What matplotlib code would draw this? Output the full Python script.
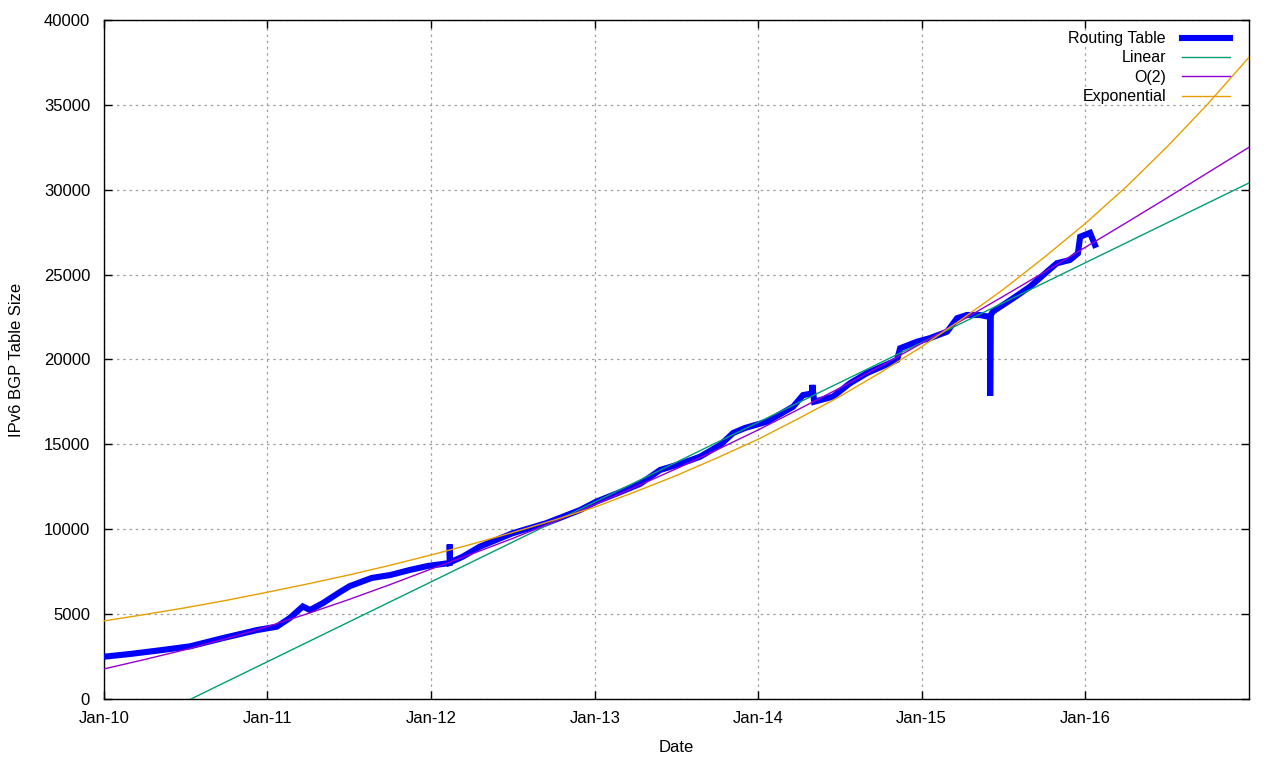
import pandas as pd
import matplotlib
matplotlib.use("Agg")
import matplotlib.pyplot as plt
import matplotlib.dates as mdates

# routing table size (dates repeated where the line jumps)
table_dates = [
    "2010-01-01", "2010-02-28", "2010-05-13", "2010-07-12", "2010-09-24",
    "2010-12-09", "2011-01-22", "2011-02-20", "2011-03-21", "2011-04-06",
    "2011-05-05", "2011-06-12", "2011-07-04", "2011-08-22", "2011-10-02",
    "2011-11-15", "2011-12-26", "2012-02-12", "2012-02-12", "2012-02-13",
    "2012-03-12", "2012-04-19", "2012-07-01", "2012-09-15", "2012-11-29",
    "2013-01-04", "2013-02-27", "2013-04-12", "2013-05-27", "2013-07-10",
    "2013-08-24", "2013-10-08", "2013-11-06", "2013-12-02", "2014-01-21",
    "2014-03-20", "2014-04-11", "2014-05-01", "2014-05-02", "2014-05-06",
    "2014-06-17", "2014-07-25", "2014-09-01", "2014-11-07", "2014-11-14",
    "2014-12-22", "2015-01-20", "2015-02-27", "2015-03-21", "2015-04-12",
    "2015-05-11", "2015-06-03", "2015-06-03", "2015-06-04", "2015-06-09",
    "2015-07-24", "2015-08-31", "2015-10-08", "2015-10-30", "2015-11-28",
    "2015-12-16", "2015-12-21", "2016-01-12", "2016-01-23",
]
table_size = [
    2490, 2650, 2890, 3100, 3590,
    4060, 4260, 4770, 5450, 5240,
    5650, 6300, 6650, 7130, 7300,
    7600, 7840, 8010, 9100, 8050,
    8380, 8970, 9760, 10360, 11130,
    11620, 12190, 12670, 13490, 13840,
    14270, 14960, 15670, 15960, 16340,
    17220, 17900, 18000, 18500, 17510,
    17810, 18600, 19200, 19970, 20660,
    21050, 21260, 21640, 22430, 22620,
    22620, 22500, 17850, 22600, 22820,
    23600, 24290, 25170, 25670, 25860,
    26250, 27230, 27460, 26750,
]

# fitted curves, read at each quarter
fit_dates = [
    "2010-01-01", "2010-04-01", "2010-07-01", "2010-10-01",
    "2011-01-01", "2011-04-01", "2011-07-01", "2011-10-01",
    "2012-01-01", "2012-04-01", "2012-07-01", "2012-10-01",
    "2013-01-01", "2013-04-01", "2013-07-01", "2013-10-01",
    "2014-01-01", "2014-04-01", "2014-07-01", "2014-10-01",
    "2015-01-01", "2015-04-01", "2015-07-01", "2015-10-01",
    "2016-01-01", "2016-04-01", "2016-07-01", "2016-10-01",
    "2017-01-01",
]
quad_fit = [1770, 2320, 2900, 3560, 4260, 5030, 5850, 6730, 7650,
            8540, 9450, 10430, 11450, 12480, 13550, 14680, 15850,
            17060, 18300, 19600, 20950, 22310, 23700, 25130, 26600,
            28040, 29500, 31000, 32500]
exp_fit = [4600, 4970, 5370, 5810, 6290, 6780, 7300, 7870, 8480,
           9120, 9800, 10530, 11300, 12200, 13150, 14200, 15300,
           16520, 17800, 19230, 20750, 22380, 24100, 26000, 28000,
           30150, 32500, 35050, 37800]
lin_dates = ["2010-01-01", "2017-01-01"]
lin_fit = [-2500, 30400]

plt.rcParams['font.family'] = ['Liberation Sans', 'DejaVu Sans']

fig = plt.figure(figsize=(12.8, 7.6), dpi=100)
ax = fig.add_axes([0.08125, 0.0803, 0.8945, 0.8934])

ax.plot(pd.to_datetime(table_dates), table_size, color='#0000ff', lw=4.4,
        label='Routing Table', solid_joinstyle='miter', zorder=3)
ax.plot(pd.to_datetime(lin_dates), lin_fit, color='#009e73', lw=1,
        label='Linear', zorder=4)
ax.plot(pd.to_datetime(fit_dates), quad_fit, color='#9400d3', lw=1,
        label='O(2)', zorder=4)
ax.plot(pd.to_datetime(fit_dates), exp_fit, color='#e69f00', lw=1,
        label='Exponential', zorder=4)

ax.set_xlim(pd.Timestamp("2010-01-01"), pd.Timestamp("2017-01-01"))
ax.set_ylim(0, 40000)
ax.set_yticks(range(0, 40001, 5000))
ax.xaxis.set_major_formatter(mdates.DateFormatter('%b-%y'))
# gnuplot leaves the last year tick unlabeled
ax.set_xticks(pd.to_datetime([f"{y}-01-01" for y in range(2010, 2017)]))

ax.grid(True, color='#a0a0a0', linestyle=(0, (2, 3)), lw=0.9)
ax.tick_params(direction='in', length=6, width=1, top=True, right=True,
               labelsize=12, colors='black')
ax.tick_params(axis='x', pad=9)
ax.tick_params(axis='y', pad=10)
for s in ax.spines.values():
    s.set_linewidth(1)

ax.set_xlabel("Date", fontsize=12, labelpad=10)
ax.set_ylabel("IPv6 BGP Table Size", fontsize=12, labelpad=14)

ax.legend(loc='upper right', frameon=False, markerfirst=False, fontsize=11.5,
          handlelength=3.0, labelspacing=0.27, handletextpad=1.0,
          borderaxespad=0.3, bbox_to_anchor=(0.993, 1.0))

fig.savefig("out.png", dpi=100)
